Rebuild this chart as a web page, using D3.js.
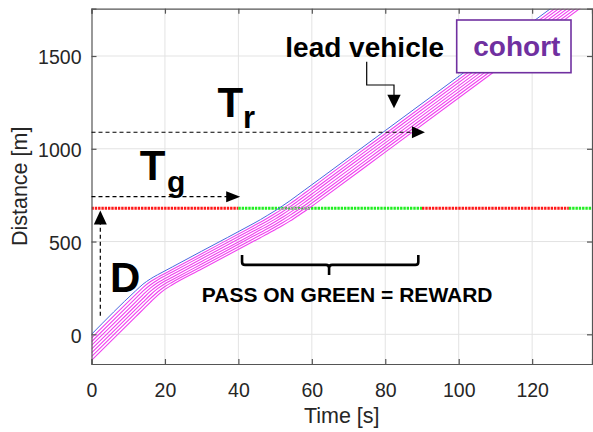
<!DOCTYPE html>
<html>
<head>
<meta charset="utf-8">
<script src="https://cdn.jsdelivr.net/npm/d3@7"></script>
<style>
  html, body { margin: 0; padding: 0; background: #fff; }
  svg { display: block; font-family: "Liberation Sans", Arial, sans-serif; }
</style>
</head>
<body>
<svg id="chart" width="593" height="432"></svg>
<script>
// Trajectory samples: time [s] and travelled distance [m]
const timeGrid = [0, 12, 14, 16, 18, 20, 22, 30, 44, 46, 48, 50, 52, 54, 56, 58, 60, 62, 80, 136];
const leadVehicle = [0, 234, 270, 298, 321, 342, 363, 448, 596, 618, 642, 666, 692, 719, 748, 777, 806, 835, 1098, 1916];
const cohort = [
  [-20, 214, 252, 283, 307, 328, 349, 434, 583, 604, 627, 651, 676, 703, 731, 760, 789, 819, 1081, 1899],
  [-40, 194, 233, 266, 293, 315, 336, 421, 569, 590, 612, 636, 661, 687, 715, 744, 773, 802, 1065, 1883],
  [-60, 174, 213, 249, 278, 301, 322, 407, 555, 576, 598, 621, 646, 672, 699, 727, 756, 786, 1048, 1866],
  [-80, 154, 193, 231, 262, 287, 308, 393, 541, 563, 584, 607, 631, 656, 683, 711, 740, 769, 1032, 1849],
  [-100, 134, 173, 212, 246, 273, 294, 379, 528, 549, 570, 592, 616, 641, 667, 694, 723, 752, 1015, 1833],
  [-120, 114, 153, 192, 228, 258, 281, 365, 514, 535, 556, 578, 601, 625, 651, 678, 707, 736, 999, 1816],
  [-140, 94, 133, 172, 210, 242, 267, 352, 500, 521, 542, 564, 586, 610, 636, 662, 690, 719, 982, 1800]
];

// Traffic signal at a fixed distance, with its phase timing
const signalDistance = 680;
const phaseStart = [0, 40, 90, 130];
const phaseEnd = [40, 90, 130, 137];
const phaseState = ["red", "green", "red", "green"];

// Axis ticks
const xTicks = [0, 20, 40, 60, 80, 100, 120];
const yTicks = [0, 500, 1000, 1500];

const svg = d3.select("#chart");
const W = 593, H = 432;
const plot = { left: 91.5, right: 592, top: 8.7, bottom: 364 };

const x = d3.scaleLinear().domain([0, 136.3]).range([plot.left, plot.right]);
const y = d3.scaleLinear().domain([-160, 1755]).range([plot.bottom, plot.top]);

svg.append("rect").attr("width", W).attr("height", H).attr("fill", "#fff");

svg.append("defs").append("clipPath").attr("id", "plotClip")
  .append("rect")
  .attr("x", plot.left).attr("y", plot.top)
  .attr("width", plot.right - plot.left).attr("height", plot.bottom - plot.top);

// Grid
const grid = svg.append("g").attr("stroke", "#e3e3e3").attr("stroke-width", 1);
grid.selectAll(".gx").data(xTicks.filter(d => d > 0)).join("line")
  .attr("x1", d => x(d)).attr("x2", d => x(d))
  .attr("y1", plot.top).attr("y2", plot.bottom);
grid.selectAll(".gy").data(yTicks).join("line")
  .attr("x1", plot.left).attr("x2", plot.right)
  .attr("y1", d => y(d)).attr("y2", d => y(d));

const dataLayer = svg.append("g").attr("clip-path", "url(#plotClip)");

// Signal state line
const signalColor = { red: "#ff1a1a", green: "#22ee22" };
dataLayer.selectAll(".phase").data(phaseStart).join("line")
  .attr("x1", (d, i) => x(d)).attr("x2", (d, i) => x(phaseEnd[i]))
  .attr("y1", y(signalDistance)).attr("y2", y(signalDistance))
  .attr("stroke", (d, i) => signalColor[phaseState[i]])
  .attr("stroke-width", 3)
  .attr("stroke-dasharray", "2.4 0.9");

const line = d3.line()
  .x((d, i) => x(timeGrid[i]))
  .y(d => y(d))
  .curve(d3.curveMonotoneX);

// Lead vehicle and cohort trajectories
dataLayer.append("path").datum(leadVehicle)
  .attr("d", line).attr("fill", "none")
  .attr("stroke", "#4a66e0").attr("stroke-width", 1);
dataLayer.selectAll(".cohort").data(cohort).join("path")
  .attr("d", line).attr("fill", "none")
  .attr("stroke", "#f040f0").attr("stroke-width", 1.1);

// Axes (inward ticks, boxed)
const axisColor = "#555";
const fmt = d3.format("d");
const gx = svg.append("g").attr("transform", `translate(0,${plot.bottom})`)
  .call(d3.axisBottom(x).tickValues(xTicks).tickFormat(fmt).tickSize(-5).tickPadding(19));
const gy = svg.append("g").attr("transform", `translate(${plot.left},0)`)
  .call(d3.axisLeft(y).tickValues(yTicks).tickFormat(fmt).tickSize(-5).tickPadding(10));
const gt = svg.append("g").attr("transform", `translate(0,${plot.top})`)
  .call(d3.axisTop(x).tickValues(xTicks).tickFormat("").tickSize(-5));
const gr = svg.append("g").attr("transform", `translate(${plot.right},0)`)
  .call(d3.axisRight(y).tickValues(yTicks).tickFormat("").tickSize(-5));
[gx, gy, gt, gr].forEach(g => {
  g.select(".domain").attr("stroke", axisColor).attr("stroke-width", 1.2);
  g.selectAll(".tick line").attr("stroke", axisColor).attr("stroke-width", 1.2);
  g.selectAll(".tick text").attr("fill", "#262626")
    .style("font-size", "19.5px").style("font-family", "'Liberation Sans', Arial, sans-serif");
});
gy.selectAll(".tick text").attr("dy", "0.4em");

svg.append("text").attr("x", (plot.left + plot.right) / 2).attr("y", 423)
  .attr("text-anchor", "middle").attr("fill", "#262626").style("font-size", "21.5px")
  .text("Time [s]");
svg.append("text")
  .attr("transform", `translate(26.5,${(plot.top + plot.bottom) / 2}) rotate(-90)`)
  .attr("text-anchor", "middle").attr("fill", "#262626").style("font-size", "21.5px")
  .text("Distance [m]");

// Annotations
const ann = svg.append("g");

function arrowHead(g, tipX, tipY, dir, len, half) {
  let pts;
  if (dir === "right") pts = [[tipX, tipY], [tipX - len, tipY - half], [tipX - len, tipY + half]];
  else if (dir === "up") pts = [[tipX, tipY], [tipX - half, tipY + len], [tipX + half, tipY + len]];
  else pts = [[tipX, tipY], [tipX - half, tipY - len], [tipX + half, tipY - len]];
  g.append("path").attr("d", "M" + pts.map(p => p.join(",")).join("L") + "Z").attr("fill", "#000");
}

// T_g and T_r dashed time arrows
const tgTip = 40.5, tgDist = 742;
const trTip = 90.8, trDist = 1089;
ann.append("line").attr("x1", x(0)).attr("x2", x(tgTip) - 13)
  .attr("y1", y(tgDist)).attr("y2", y(tgDist))
  .attr("stroke", "#000").attr("stroke-width", 1.2).attr("stroke-dasharray", "4 3");
arrowHead(ann, x(tgTip), y(tgDist), "right", 14, 5.5);
ann.append("line").attr("x1", x(0)).attr("x2", x(trTip) - 12)
  .attr("y1", y(trDist)).attr("y2", y(trDist))
  .attr("stroke", "#000").attr("stroke-width", 1.2).attr("stroke-dasharray", "4 3");
arrowHead(ann, x(trTip), y(trDist), "right", 13, 6);

// D dashed distance arrow
const dTime = 2.4, dFrom = 100, dTo = 667;
ann.append("line").attr("x1", x(dTime)).attr("x2", x(dTime))
  .attr("y1", y(dFrom)).attr("y2", y(dTo) + 13)
  .attr("stroke", "#000").attr("stroke-width", 1.2).attr("stroke-dasharray", "4 3");
arrowHead(ann, x(dTime), y(dTo), "up", 14, 6.5);

// Lead vehicle pointer
ann.append("path").attr("d", "M366.7,61.7 L366.7,85 L394,85 L394,96")
  .attr("fill", "none").attr("stroke", "#000").attr("stroke-width", 1.2);
arrowHead(ann, 394, 108.3, "down", 13.5, 6.7);

// Bracket spanning the green window
const brStart = 41, brEnd = 89, brMidT = 64.7;
const brTopD = 428, brBarD = 374, brTipD = 320;
const bx0 = x(brStart), bx1 = x(brEnd), bxm = x(brMidT);
const byTop = y(brTopD), byBar = y(brBarD), byTip = y(brTipD);
const r = 3;
ann.append("path")
  .attr("d", `M${bx0},${byTop} L${bx0},${byBar - r} Q${bx0},${byBar} ${bx0 + r},${byBar}
              L${bxm - r},${byBar} Q${bxm},${byBar} ${bxm},${byBar + r} L${bxm},${byTip}
              M${bxm},${byBar + r} Q${bxm},${byBar} ${bxm + r},${byBar}
              L${bx1 - r},${byBar} Q${bx1},${byBar} ${bx1},${byBar - r} L${bx1},${byTop}`)
  .attr("fill", "none").attr("stroke", "#000").attr("stroke-width", 2.6);

// Labels
const bold = (sel) => sel.attr("font-weight", "bold").attr("fill", "#000");
bold(ann.append("text").attr("x", 139.8).attr("y", 180).style("font-size", "42px").text("T"));
bold(ann.append("text").attr("x", 167).attr("y", 192.3).style("font-size", "30px").text("g"));
bold(ann.append("text").attr("x", 217.4).attr("y", 117).style("font-size", "42px").text("T"));
bold(ann.append("text").attr("x", 243).attr("y", 128.3).style("font-size", "31px").text("r"));
bold(ann.append("text").attr("x", 110).attr("y", 291.7).style("font-size", "42px").text("D"));
bold(ann.append("text").attr("x", 285.3).attr("y", 57).style("font-size", "28px").text("lead vehicle"));
bold(ann.append("text").attr("x", 201.8).attr("y", 301.7).style("font-size", "21px").text("PASS ON GREEN = REWARD"));

// Cohort legend box
ann.append("rect").attr("x", 456.7).attr("y", 20).attr("width", 114.3).attr("height", 52.7)
  .attr("fill", "#fff").attr("stroke", "#7030a0").attr("stroke-width", 1.6);
ann.append("text").attr("x", 473.3).attr("y", 56).attr("font-weight", "bold")
  .attr("fill", "#7030a0").style("font-size", "28px").text("cohort");
</script>
</body>
</html>
